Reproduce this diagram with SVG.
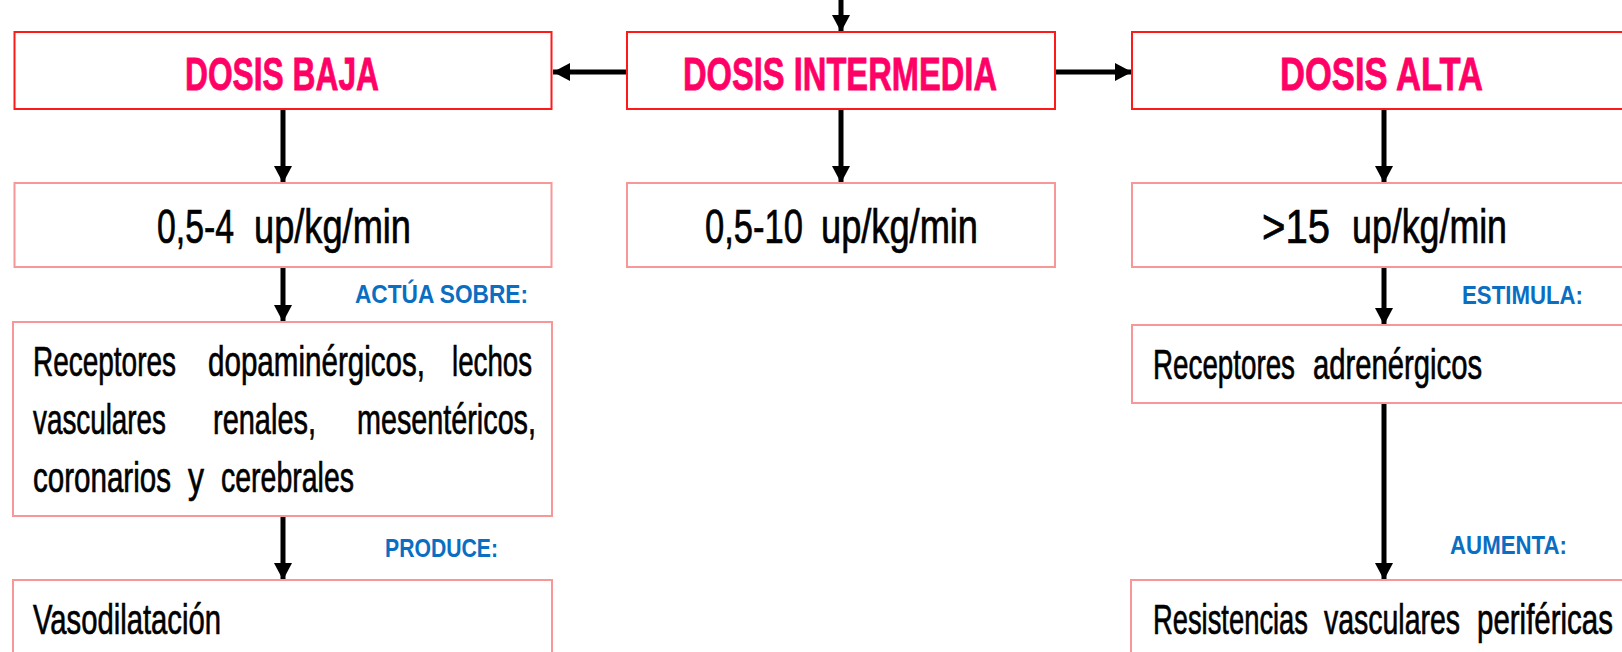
<svg xmlns="http://www.w3.org/2000/svg" width="1622" height="652" viewBox="0 0 1622 652">
<style>
.hbox{fill:#fff;stroke:#FF1A1A;stroke-width:2}
.box{fill:#fff;stroke:#F79797;stroke-width:2}
.head{font-family:"Liberation Sans Narrow","Liberation Sans",sans-serif;font-weight:bold;font-size:47px;fill:#FF0066;stroke:#FF0066;stroke-width:0.8}
.num{font-family:"Liberation Sans Narrow","Liberation Sans",sans-serif;font-size:48px;fill:#000;stroke:#000;stroke-width:0.7}
.body{font-family:"Liberation Sans Narrow","Liberation Sans",sans-serif;font-size:43px;fill:#000;stroke:#000;stroke-width:0.7}
.lbl{font-family:"Liberation Sans Narrow","Liberation Sans",sans-serif;font-weight:bold;font-size:25px;fill:#0A6EC2}
.conn{stroke:#000;stroke-width:5;fill:none;marker-end:url(#ah)}
</style>
<defs>
<marker id="ah" markerUnits="userSpaceOnUse" markerWidth="18" markerHeight="18" refX="17" refY="9" orient="auto">
<path d="M0,0 L17,9 L0,18 z" fill="#000"/>
</marker>
</defs>
<rect width="1622" height="652" fill="#fff"/>
<g id="connectors">
<line class="conn" x1="841" y1="-5" x2="841" y2="32"/>
<line class="conn" x1="627" y1="72" x2="553" y2="72"/>
<line class="conn" x1="1055" y1="72" x2="1132" y2="72"/>
<line class="conn" x1="283" y1="109" x2="283" y2="183"/>
<line class="conn" x1="841" y1="109" x2="841" y2="183"/>
<line class="conn" x1="1384" y1="109" x2="1384" y2="183"/>
<line class="conn" x1="283" y1="267" x2="283" y2="322"/>
<line class="conn" x1="283" y1="516" x2="283" y2="580"/>
<line class="conn" x1="1384" y1="267" x2="1384" y2="325"/>
<line class="conn" x1="1384" y1="403" x2="1384" y2="580"/>
</g>
<g id="labels">
<text class="lbl" x="355" y="303" textLength="173" lengthAdjust="spacingAndGlyphs">ACTÚA SOBRE:</text>
<text class="lbl" x="385" y="557" textLength="113" lengthAdjust="spacingAndGlyphs">PRODUCE:</text>
<text class="lbl" x="1462" y="304" textLength="121" lengthAdjust="spacingAndGlyphs">ESTIMULA:</text>
<text class="lbl" x="1450" y="554" textLength="117" lengthAdjust="spacingAndGlyphs">AUMENTA:</text>
</g>
<g id="dosis-baja">
<rect class="hbox" x="14.5" y="32" width="537" height="77"/>
<text class="head" x="185" y="90" textLength="194" lengthAdjust="spacingAndGlyphs">DOSIS BAJA</text>
</g>
<g id="dosis-intermedia">
<rect class="hbox" x="627" y="32" width="428" height="77"/>
<text class="head" x="683" y="90" textLength="314" lengthAdjust="spacingAndGlyphs">DOSIS INTERMEDIA</text>
</g>
<g id="dosis-alta">
<rect class="hbox" x="1132" y="32" width="520" height="77"/>
<text class="head" x="1280" y="90" textLength="203" lengthAdjust="spacingAndGlyphs">DOSIS ALTA</text>
</g>
<g id="rango-baja">
<rect class="box" x="14.5" y="183" width="537" height="84"/>
<text class="num" x="157" y="243" textLength="77" lengthAdjust="spacingAndGlyphs">0,5-4</text>
<text class="num" x="254" y="243" textLength="157" lengthAdjust="spacingAndGlyphs">up/kg/min</text>
</g>
<g id="rango-intermedia">
<rect class="box" x="627" y="183" width="428" height="84"/>
<text class="num" x="705" y="243" textLength="98" lengthAdjust="spacingAndGlyphs">0,5-10</text>
<text class="num" x="821" y="243" textLength="157" lengthAdjust="spacingAndGlyphs">up/kg/min</text>
</g>
<g id="rango-alta">
<rect class="box" x="1132" y="183" width="520" height="84"/>
<text class="num" x="1262" y="243" textLength="68" lengthAdjust="spacingAndGlyphs">&gt;15</text>
<text class="num" x="1352" y="243" textLength="155" lengthAdjust="spacingAndGlyphs">up/kg/min</text>
</g>
<g id="receptores-dopaminergicos">
<rect class="box" x="13" y="322" width="539" height="194"/>
<text class="body" x="33" y="376" textLength="143" lengthAdjust="spacingAndGlyphs">Receptores</text>
<text class="body" x="208" y="376" textLength="217" lengthAdjust="spacingAndGlyphs">dopaminérgicos,</text>
<text class="body" x="452" y="376" textLength="80" lengthAdjust="spacingAndGlyphs">lechos</text>
<text class="body" x="33" y="434" textLength="133" lengthAdjust="spacingAndGlyphs">vasculares</text>
<text class="body" x="213" y="434" textLength="103" lengthAdjust="spacingAndGlyphs">renales,</text>
<text class="body" x="357" y="434" textLength="179" lengthAdjust="spacingAndGlyphs">mesentéricos,</text>
<text class="body" x="33" y="492" textLength="138" lengthAdjust="spacingAndGlyphs">coronarios</text>
<text class="body" x="188" y="492" textLength="16" lengthAdjust="spacingAndGlyphs">y</text>
<text class="body" x="221" y="492" textLength="133" lengthAdjust="spacingAndGlyphs">cerebrales</text>
</g>
<g id="vasodilatacion">
<rect class="box" x="13" y="580" width="539" height="100"/>
<text class="body" x="33" y="634" textLength="188" lengthAdjust="spacingAndGlyphs">Vasodilatación</text>
</g>
<g id="receptores-adrenergicos">
<rect class="box" x="1132" y="325" width="520" height="78"/>
<text class="body" x="1153" y="379" textLength="142" lengthAdjust="spacingAndGlyphs">Receptores</text>
<text class="body" x="1313" y="379" textLength="169" lengthAdjust="spacingAndGlyphs">adrenérgicos</text>
</g>
<g id="resistencias">
<rect class="box" x="1131" y="580" width="520" height="100"/>
<text class="body" x="1153" y="634" textLength="155" lengthAdjust="spacingAndGlyphs">Resistencias</text>
<text class="body" x="1324" y="634" textLength="136" lengthAdjust="spacingAndGlyphs">vasculares</text>
<text class="body" x="1477" y="634" textLength="136" lengthAdjust="spacingAndGlyphs">periféricas</text>
</g>
</svg>
